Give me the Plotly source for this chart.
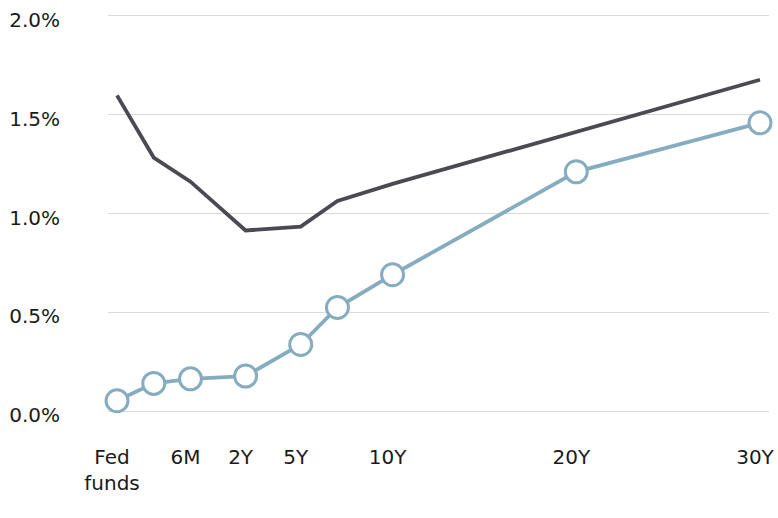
import plotly.graph_objects as go

# Tenors and their positions along the maturity axis
tenors = ["Fed funds", "3M", "6M", "2Y", "5Y", "7Y", "10Y", "20Y", "30Y"]
tenor_pos = [0, 2, 4, 7, 10, 12, 15, 25, 35]

# Yields (%)
dark_yields = [1.598, 1.283, 1.161, 0.914, 0.934, 1.064, 1.150, 1.413, 1.677]
blue_yields = [0.052, 0.140, 0.163, 0.177, 0.337, 0.524, 0.690, 1.211, 1.459]

# Axis ticks
x_tickvals = [0, 4, 7, 10, 15, 25, 35]
x_ticktext = ["Fed<br>funds", "6M", "2Y", "5Y", "10Y", "20Y", "30Y"]
y_tickvals = [0, 0.5, 1.0, 1.5, 2.0]
y_ticktext = ["0.0%", "0.5%", "1.0%", "1.5%", "2.0%"]

DARK = "#4a4b52"
BLUE = "#86adbf"
FONT = "DejaVu Sans"

fig = go.Figure()
fig.add_trace(go.Scatter(
    x=tenor_pos, y=dark_yields, mode="lines",
    line=dict(color=DARK, width=3.8),
    hovertext=tenors, cliponaxis=False, showlegend=False,
))
fig.add_trace(go.Scatter(
    x=tenor_pos, y=blue_yields, mode="lines+markers",
    line=dict(color=BLUE, width=3.8),
    marker=dict(size=22, color="white", line=dict(color=BLUE, width=3)),
    hovertext=tenors, cliponaxis=False, showlegend=False,
))

fig.update_layout(
    width=778, height=518,
    margin=dict(l=108, r=9, t=12, b=103),
    paper_bgcolor="white", plot_bgcolor="white",
    font=dict(family=FONT, size=20, color="#1a1a1a"),
    xaxis=dict(
        range=[-0.49, 35.49], tickmode="array",
        tickvals=x_tickvals, ticktext=x_ticktext,
        showgrid=False, zeroline=False, showline=False, ticks="",
        ticklabelshift=-5, ticklabelstandoff=28,
        ticklabeloverflow="allow", automargin=False,
    ),
    yaxis=dict(
        range=[-0.02, 2.02], tickmode="array",
        tickvals=y_tickvals, ticktext=y_ticktext,
        showgrid=True, gridcolor="#d9d9d9", gridwidth=1,
        zeroline=False, showline=False, ticks="",
        ticklabelstandoff=47, ticklabelshift=4,
        ticklabeloverflow="allow", automargin=False,
    ),
)

fig.write_html("out.html", config={"displayModeBar": False},
               post_script="document.body.style.margin='0';")
